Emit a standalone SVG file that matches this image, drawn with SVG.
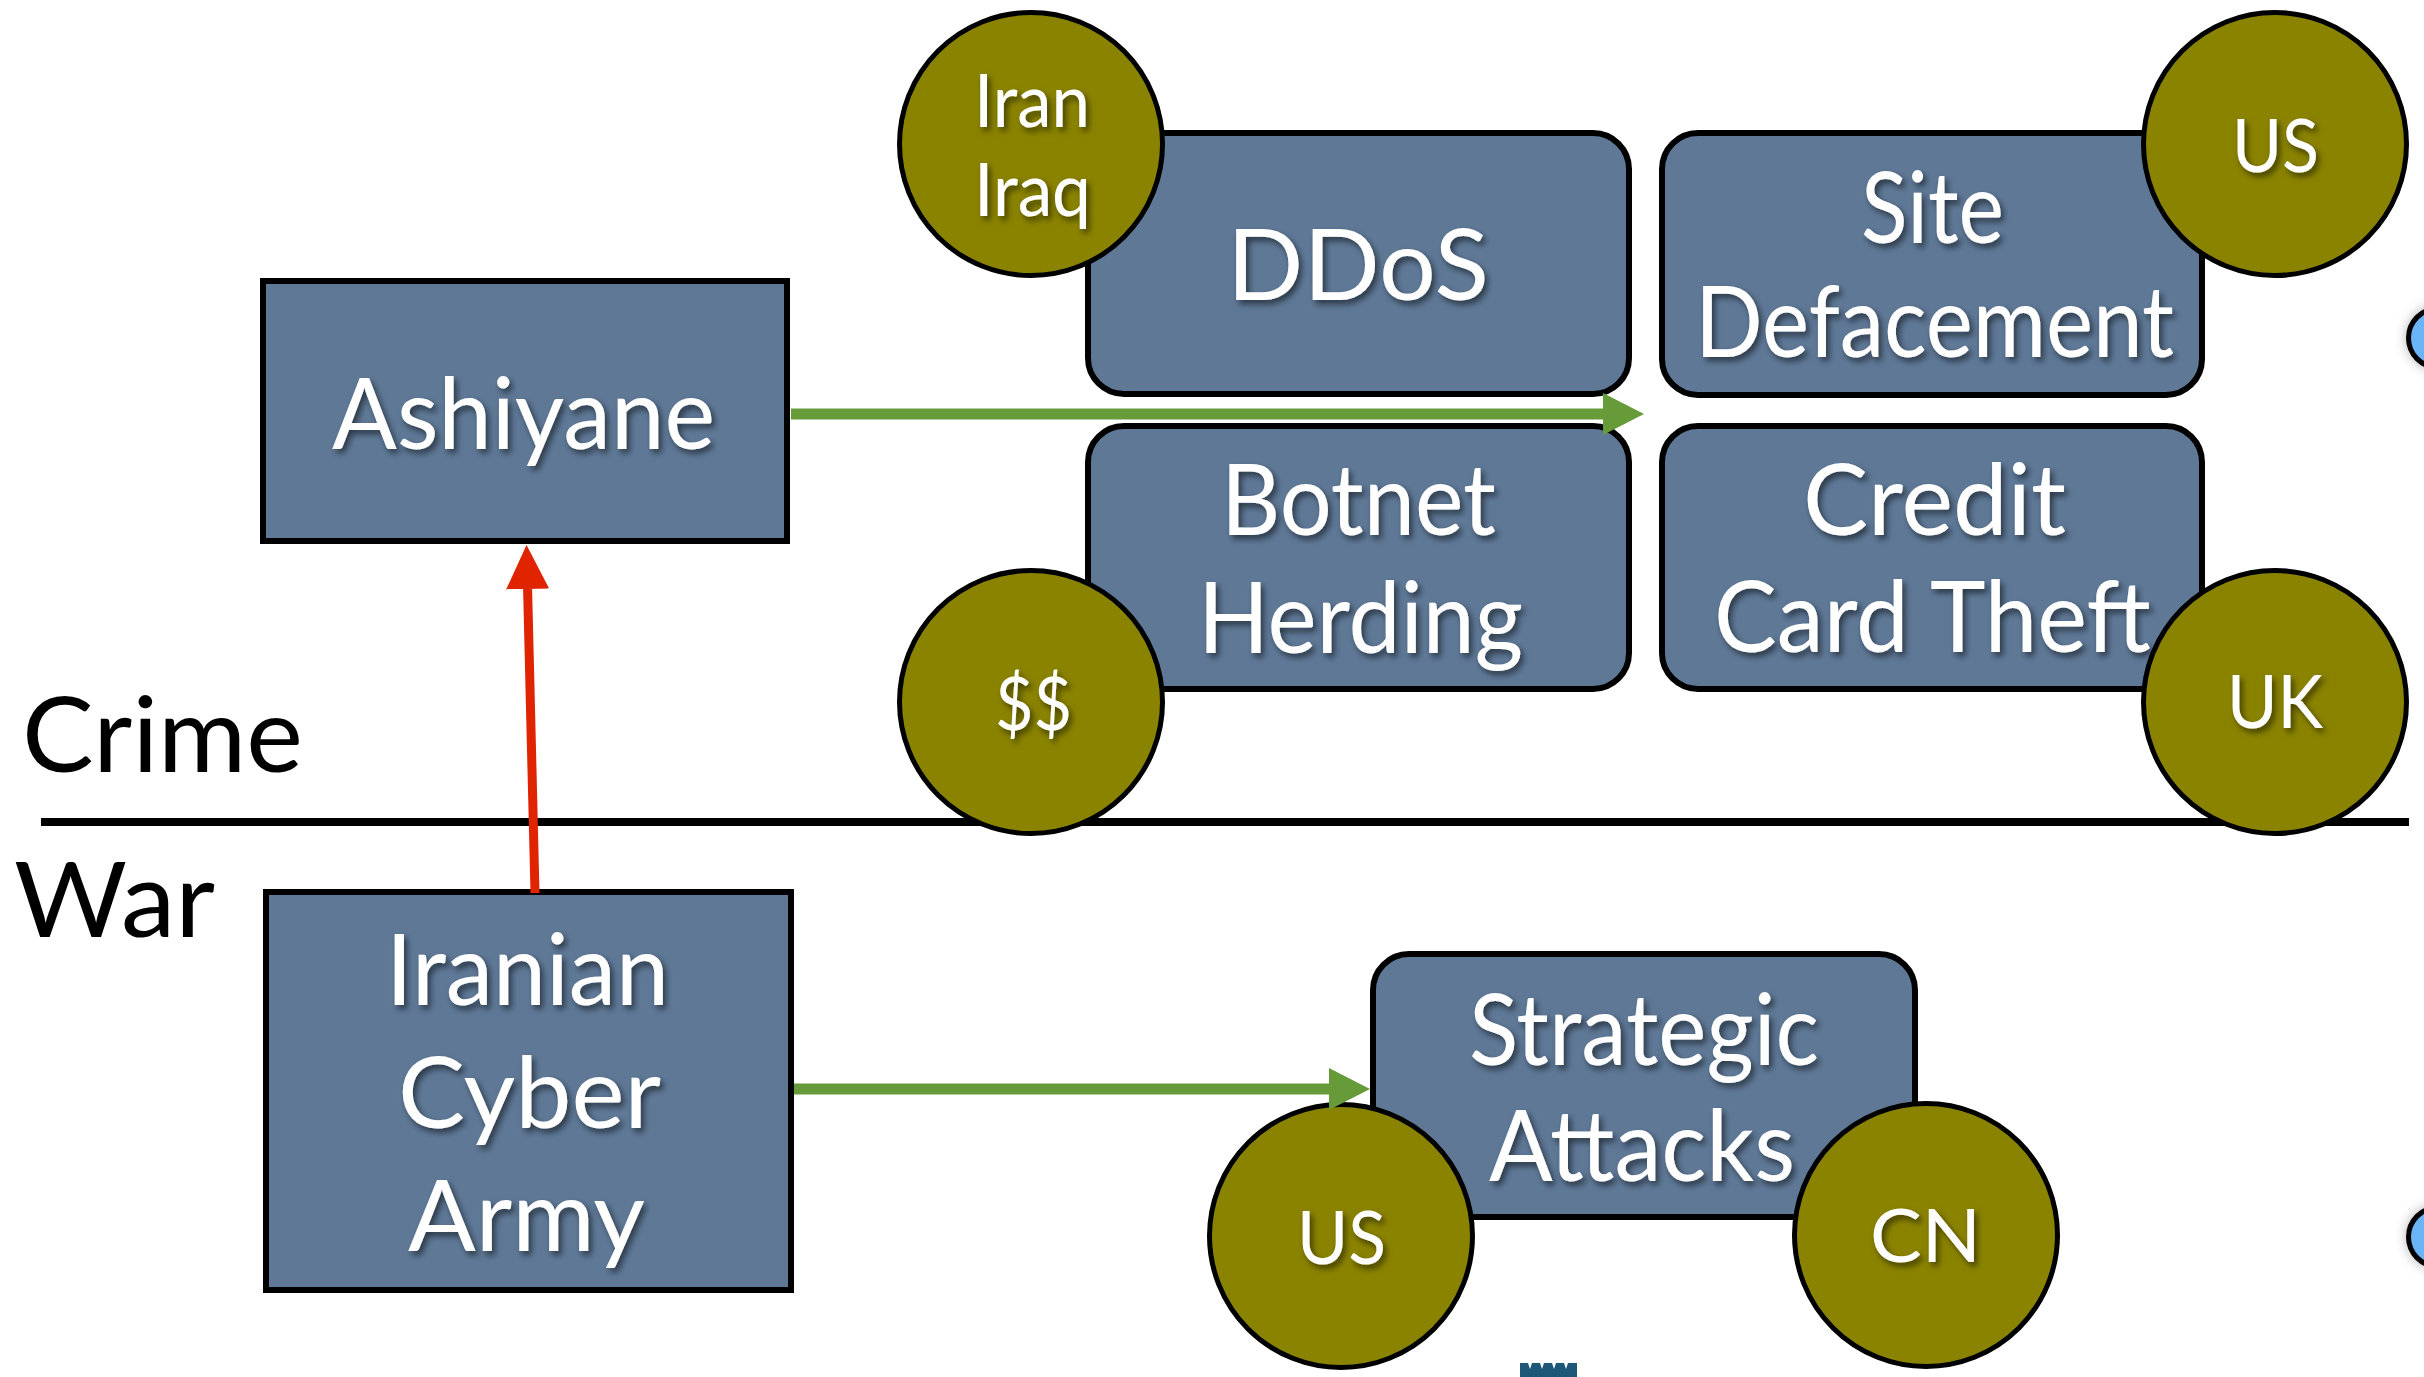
<svg xmlns="http://www.w3.org/2000/svg" width="2424" height="1377" viewBox="0 0 2424 1377">
<style>
.box{fill:#5e7896;stroke:#000;stroke-width:6}
.dot{fill:#8a8300;stroke:#000;stroke-width:5}
.t{font-family:Lato,"Liberation Sans",sans-serif;fill:#fff;text-anchor:start;filter:url(#sh)}
.big{font-size:98px}
.sm{font-size:73px}
.lab{font-family:Lato,"Liberation Sans",sans-serif;font-size:104px;fill:#000}
.green{stroke:#679a38;stroke-width:11;fill:none}
.red{stroke:#e02400;stroke-width:9;fill:none}
</style>
<defs>
<filter id="sh" x="-10%" y="-10%" width="130%" height="140%">
<feDropShadow dx="3" dy="4" stdDeviation="3" flood-color="#000" flood-opacity="0.55"/>
</filter>
<filter id="bs" x="-50%" y="-50%" width="200%" height="200%">
<feDropShadow dx="0" dy="0" stdDeviation="6" flood-color="#000" flood-opacity="0.3"/>
</filter>
<marker id="hg" viewBox="0 0 41 42" refX="0" refY="21" markerWidth="41" markerHeight="42" markerUnits="userSpaceOnUse" orient="auto">
<path d="M0,0 L41,21 L0,42 z" fill="#679a38"/>
</marker>
<marker id="hr" viewBox="0 0 44 43" refX="0" refY="21.5" markerWidth="44" markerHeight="43" markerUnits="userSpaceOnUse" orient="auto">
<path d="M0,0 L44,21.5 L0,43 z" fill="#e02400"/>
</marker>
</defs>
<rect width="2424" height="1377" fill="#fff"/>

<g id="divider">
<line x1="41" y1="822" x2="2409" y2="822" stroke="#000" stroke-width="8"/>
<text class="lab" x="22" y="772" textLength="281" lengthAdjust="spacingAndGlyphs">Crime</text>
<text class="lab" x="14" y="937" textLength="201" lengthAdjust="spacingAndGlyphs">War</text>
</g>

<g id="ashiyane">
<rect class="box" x="263" y="281" width="524" height="260"/>
<text class="t big" x="332" y="449" textLength="383" lengthAdjust="spacingAndGlyphs">Ashiyane</text>
</g>

<g id="iranian-cyber-army">
<rect class="box" x="266" y="892" width="525" height="398"/>
<text class="t big" x="386" y="1005" textLength="283" lengthAdjust="spacingAndGlyphs">Iranian</text>
<text class="t big" x="398" y="1128" textLength="263" lengthAdjust="spacingAndGlyphs">Cyber</text>
<text class="t big" x="408" y="1251" textLength="237" lengthAdjust="spacingAndGlyphs">Army</text>
</g>

<g id="ddos">
<rect class="box" x="1088" y="133" width="541" height="261" rx="36"/>
<text class="t big" x="1227" y="300" textLength="262" lengthAdjust="spacingAndGlyphs">DDoS</text>
</g>

<g id="site-defacement">
<rect class="box" x="1662" y="133" width="540" height="262" rx="36"/>
<text class="t big" x="1861" y="243" textLength="143" lengthAdjust="spacingAndGlyphs">Site</text>
<text class="t big" x="1695" y="357" textLength="479" lengthAdjust="spacingAndGlyphs">Defacement</text>
</g>

<g id="botnet-herding">
<rect class="box" x="1088" y="426" width="541" height="263" rx="36"/>
<text class="t big" x="1221" y="535" textLength="275" lengthAdjust="spacingAndGlyphs">Botnet</text>
<text class="t big" x="1198" y="653" textLength="325" lengthAdjust="spacingAndGlyphs">Herding</text>
</g>

<g id="credit-card-theft">
<rect class="box" x="1662" y="426" width="540" height="263" rx="36"/>
<text class="t big" x="1803" y="535" textLength="263" lengthAdjust="spacingAndGlyphs">Credit</text>
<text class="t big" x="1714" y="652" textLength="437" lengthAdjust="spacingAndGlyphs">Card Theft</text>
</g>

<g id="strategic-attacks">
<rect class="box" x="1373" y="954" width="542" height="263" rx="36"/>
<text class="t big" x="1469" y="1065" textLength="350" lengthAdjust="spacingAndGlyphs">Strategic</text>
<text class="t big" x="1489" y="1181" textLength="306" lengthAdjust="spacingAndGlyphs">Attacks</text>
</g>

<g id="iran-iraq">
<circle class="dot" cx="1031" cy="144" r="131.5"/>
<text class="t sm" x="974" y="127" textLength="116" lengthAdjust="spacingAndGlyphs">Iran</text>
<text class="t sm" x="974" y="216" textLength="117" lengthAdjust="spacingAndGlyphs">Iraq</text>
</g>

<g id="us-top">
<circle class="dot" cx="2275" cy="144" r="131.5"/>
<text class="t sm" x="2232" y="172" textLength="87" lengthAdjust="spacingAndGlyphs">US</text>
</g>

<g id="money">
<circle class="dot" cx="1031" cy="702" r="131.5"/>
<text class="t sm" x="995" y="730" textLength="77" lengthAdjust="spacingAndGlyphs">$$</text>
</g>

<g id="uk">
<circle class="dot" cx="2275" cy="702" r="131.5"/>
<text class="t sm" x="2227" y="728" textLength="96" lengthAdjust="spacingAndGlyphs">UK</text>
</g>

<g id="us-bottom">
<circle class="dot" cx="1341" cy="1236" r="131.5"/>
<text class="t sm" x="1297" y="1264" textLength="89" lengthAdjust="spacingAndGlyphs">US</text>
</g>

<g id="cn">
<circle class="dot" cx="1926" cy="1235" r="131.5"/>
<text class="t sm" x="1870" y="1262" textLength="111" lengthAdjust="spacingAndGlyphs">CN</text>
</g>

<g id="edge-fragments">
<circle cx="2438" cy="338" r="29.5" fill="#6ab4f8" stroke="#000" stroke-width="5" filter="url(#bs)"/>
<circle cx="2438" cy="1237" r="29.5" fill="#6ab4f8" stroke="#000" stroke-width="5" filter="url(#bs)"/>
<path d="M1520,1377 L1520,1363 L1528,1363 L1530,1369 L1532,1363 L1540,1363 L1542,1369 L1544,1363 L1552,1363 L1554,1369 L1556,1363 L1564,1363 L1566,1369 L1568,1363 L1577,1363 L1577,1377 z" fill="#1d5878"/>
</g>

<g id="connectors">
<line class="green" x1="791" y1="414" x2="1603" y2="414" marker-end="url(#hg)"/>
<line class="green" x1="794" y1="1089" x2="1329" y2="1089" marker-end="url(#hg)"/>
<line class="red" x1="535" y1="893" x2="527.6" y2="589" marker-end="url(#hr)"/>
</g>
</svg>
